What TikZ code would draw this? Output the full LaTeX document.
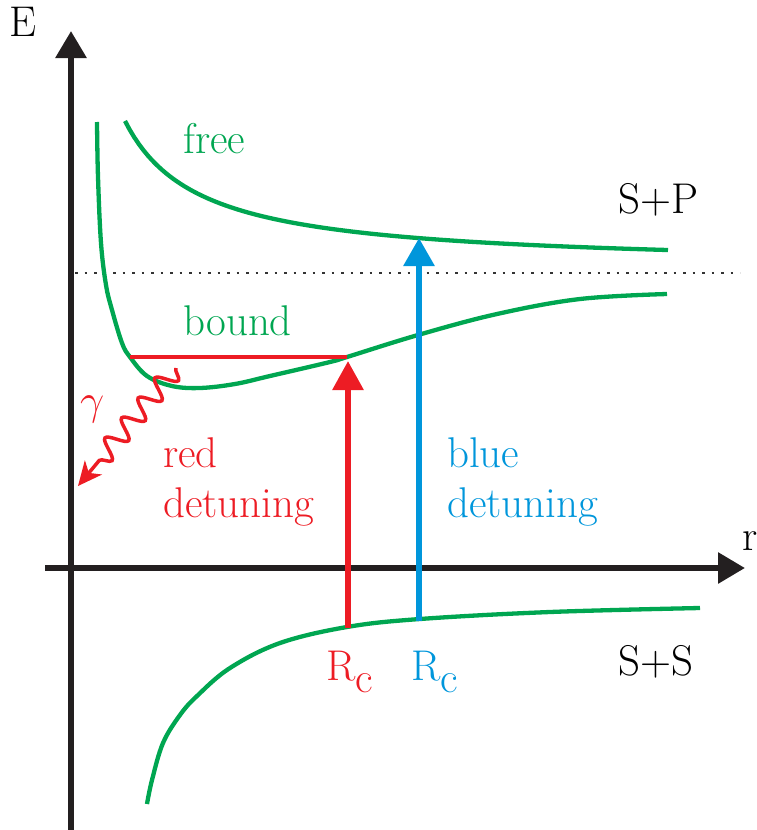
\RequirePackage{fix-cm}
\documentclass[tikz,border=0pt]{standalone}
\usetikzlibrary{arrows.meta,decorations.pathmorphing}
\definecolor{cgreen}{HTML}{00A651}
\definecolor{cred}{HTML}{ED1C24}
\definecolor{cblue}{HTML}{0096DB}
\definecolor{cblack}{HTML}{231F20}
\definecolor{cdot}{HTML}{333333}
\tikzset{
  axis/.style={draw=cblack, line width=6pt, -{Triangle[length=27pt,width=30pt]}},
  curve/.style={draw=cgreen, line width=4.3pt},
  redarrow/.style={draw=cred, line width=6pt, -{Triangle[length=29pt,width=30pt]}},
  bluearrow/.style={draw=cblue, line width=6pt, -{Triangle[length=28pt,width=30pt]}},
  lbl/.style={anchor=base west, inner sep=0pt, font=\fontsize{43}{50}\selectfont},
  photon/.style={draw=cred, line width=3.5pt, -{Stealth[length=24pt,width=22pt,inset=7pt]},
     decorate, decoration={snake, segment length=26pt, amplitude=10pt, post length=26pt}},
}
\begin{document}
\begin{tikzpicture}[x=1pt,y=-1pt]
\useasboundingbox (0,0) rectangle (757,830);
% axes
\coordinate (Ebot) at (71,830);
\coordinate (Etop) at (71,31);
\coordinate (rl) at (45,568);
\coordinate (rr) at (745,568);
\draw[axis] (Ebot) -- (Etop);
\draw[axis] (rl) -- (rr);
\node[lbl] (E) at (9,36) {E};
\node[lbl] (r) at (742,550) {r};
% dotted asymptote
\coordinate (d1) at (75,273);
\coordinate (d2) at (740,273);
\draw[cdot, line width=2.5pt, dash pattern=on 2.5pt off 7pt] (d1) -- (d2);
% free curve
\draw[curve] plot[domain=125:668, samples=120, variable=\x] ({\x},{267.6-10850/(\x-51)});
% bound curve
\draw[curve] plot[smooth, tension=0.6] coordinates {(97,122) (98,177) (101,243) (106,285) (112,310) (122,343) (130,357) (147,376) (172,386) (200,388) (235,384) (270,376) (330,362) (347,357) (418,335) (497,314) (580,299) (667,294)};
% S+S curve
\draw[curve] plot[smooth, tension=0.6] coordinates {(147,804) (152,780) (163,743) (180,715) (197,696) (230,668) (280,643) (347,627) (420,619) (550,612) (700,608)};
% red line
\coordinate (h1) at (130,357);
\coordinate (h2) at (347,357);
\draw[cred, line width=3.5pt] (h1) -- (h2);
% excitation arrows
\coordinate (ra) at (348,628);
\coordinate (rb) at (348,361);
\coordinate (ba) at (419,621);
\coordinate (bb) at (419,238);
\draw[redarrow] (ra) -- (rb);
\draw[bluearrow] (ba) -- (bb);
% photon
\coordinate (p1) at (176,368);
\coordinate (p2) at (78,486);
\draw[photon] (p1) -- (p2);
\node[lbl, text=cred] (gam) at (80,414) {$\gamma$};
% labels
\node[lbl, text=cgreen] (free) at (183,153) {free};
\node[lbl, text=cgreen] (bound) at (183,335) {bound};
\node[lbl] (SP) at (618,213) {S+P};
\node[lbl] (SS) at (618,675) {S+S};
\node[lbl, text=cred] (red1) at (163,467) {red};
\node[lbl, text=cred] (red2) at (163,517) {detuning};
\node[lbl, text=cblue] (blue1) at (447,467) {blue};
\node[lbl, text=cblue] (blue2) at (447,517) {detuning};
\node[lbl, text=cred] (Rc1) at (326,680) {R\raisebox{-12pt}{c}};
\node[lbl, text=cblue] (Rc2) at (411,680) {R\raisebox{-12pt}{c}};
\end{tikzpicture}
\end{document}
